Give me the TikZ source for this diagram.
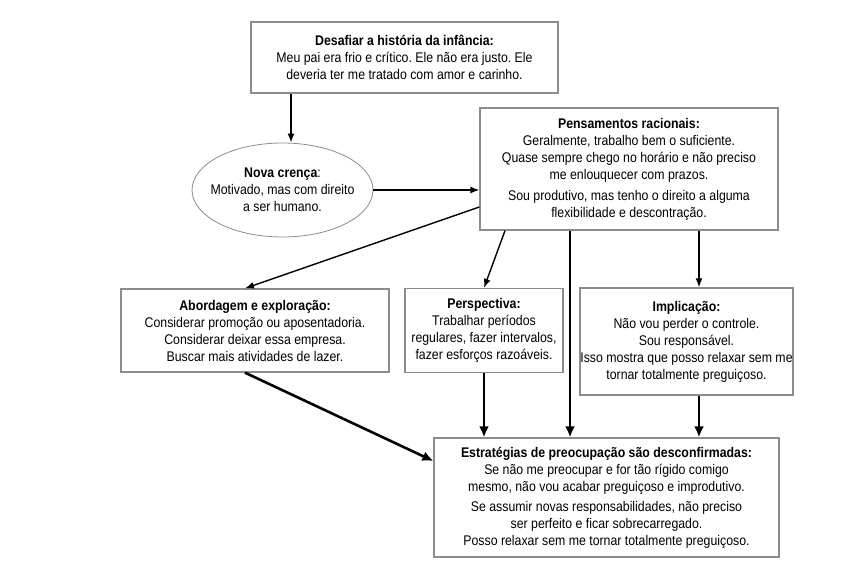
\documentclass[tikz,border=0pt]{standalone}
\usepackage{fontspec}
\setmainfont[FakeStretch=0.88]{Liberation Sans}
\usetikzlibrary{arrows.meta,calc,shapes.geometric}
\frenchspacing
\begin{document}
\begin{tikzpicture}[x=1pt,y=-1pt,
  txt/.style={align=center,inner sep=0pt,font=\fontsize{14}{17}\selectfont},
  box/.style={txt,draw=black!45,line width=1.3pt,fill=white},
  ell/.style={txt,ellipse,inner xsep=-20pt,inner ysep=-5pt,draw=black!45,line width=0.8pt,fill=white},
  thinarrow/.style={line width=1.4pt,-{Latex[length=9pt,width=7pt]}},
  thickarrow/.style={line width=2.6pt,-{Latex[length=11pt,width=10pt]}}
]
\useasboundingbox (0,0) rectangle (858,572);

\node[box,minimum width=307pt,minimum height=71pt] (top) at (404.5,57.5)
  {\textbf{Desafiar a história da infância:}\\
   Meu pai era frio e crítico. Ele não era justo. Ele\\
   deveria ter me tratado com amor e carinho.};

\node[ell,minimum width=181pt,minimum height=94pt] (ell) at (282.5,190)
  {\textbf{Nova crença}:\\ Motivado, mas com direito\\ a ser humano.};

\node[box,minimum width=298pt,minimum height=122pt] (rat) at (629,169)
  {\textbf{Pensamentos racionais:}\\
   Geralmente, trabalho bem o suficiente.\\
   Quase sempre chego no horário e não preciso\\
   me enlouquecer com prazos.\\[4pt]
   Sou produtivo, mas tenho o direito a alguma\\
   flexibilidade e descontração.};

\node[box,minimum width=268pt,minimum height=83pt] (abo) at (255,330.5)
  {\textbf{Abordagem e exploração:}\\
   Considerar promoção ou aposentadoria.\\
   Considerar deixar essa empresa.\\
   Buscar mais atividades de lazer.};

\node[box,minimum width=158pt,minimum height=84pt] (per) at (484,330.5)
  {\textbf{Perspectiva:}\\
   Trabalhar períodos\\
   regulares, fazer intervalos,\\
   fazer esforços razoáveis.};

\node[box,minimum width=213pt,minimum height=107pt] (imp) at (686.5,341.5)
  {\textbf{Implicação:}\\
   Não vou perder o controle.\\
   Sou responsável.\\
   Isso mostra que posso relaxar sem me\\
   tornar totalmente preguiçoso.};

\node[box,minimum width=345pt,minimum height=119pt] (bot) at (606.5,497.5)
  {\textbf{Estratégias de preocupação são desconfirmadas:}\\
   Se não me preocupar e for tão rígido comigo\\
   mesmo, não vou acabar preguiçoso e improdutivo.\\[3pt]
   Se assumir novas responsabilidades, não preciso\\
   ser perfeito e ficar sobrecarregado.\\
   Posso relaxar sem me tornar totalmente preguiçoso.};

\coordinate (x291) at (291,0);
\coordinate (x245) at (245,0);
\coordinate (x505) at (505,0);
\coordinate (x570) at (570,0);
\coordinate (x699) at (699,0);
\coordinate (y207) at (0,207);
\coordinate (y461) at (0,461);

\draw[thinarrow] (top.south -| x291) -- (x291 |- ell.north);
\draw[thinarrow] (ell.east) -- (ell.east -| rat.west);
\draw[thinarrow] (rat.west |- y207) -- (x245 |- abo.north);
\draw[thinarrow] (rat.south -| x505) -- (per.north);
\draw[thickarrow] (rat.south -| x570) -- (x570 |- bot.north);
\draw[thinarrow] (rat.south -| x699) -- (x699 |- imp.north);
\draw[thickarrow] (abo.south -| x245) -- (bot.west |- y461);
\draw[thickarrow] (per.south) -- (per.south |- bot.north);
\draw[thickarrow] (imp.south -| x699) -- (x699 |- bot.north);
\end{tikzpicture}
\end{document}
